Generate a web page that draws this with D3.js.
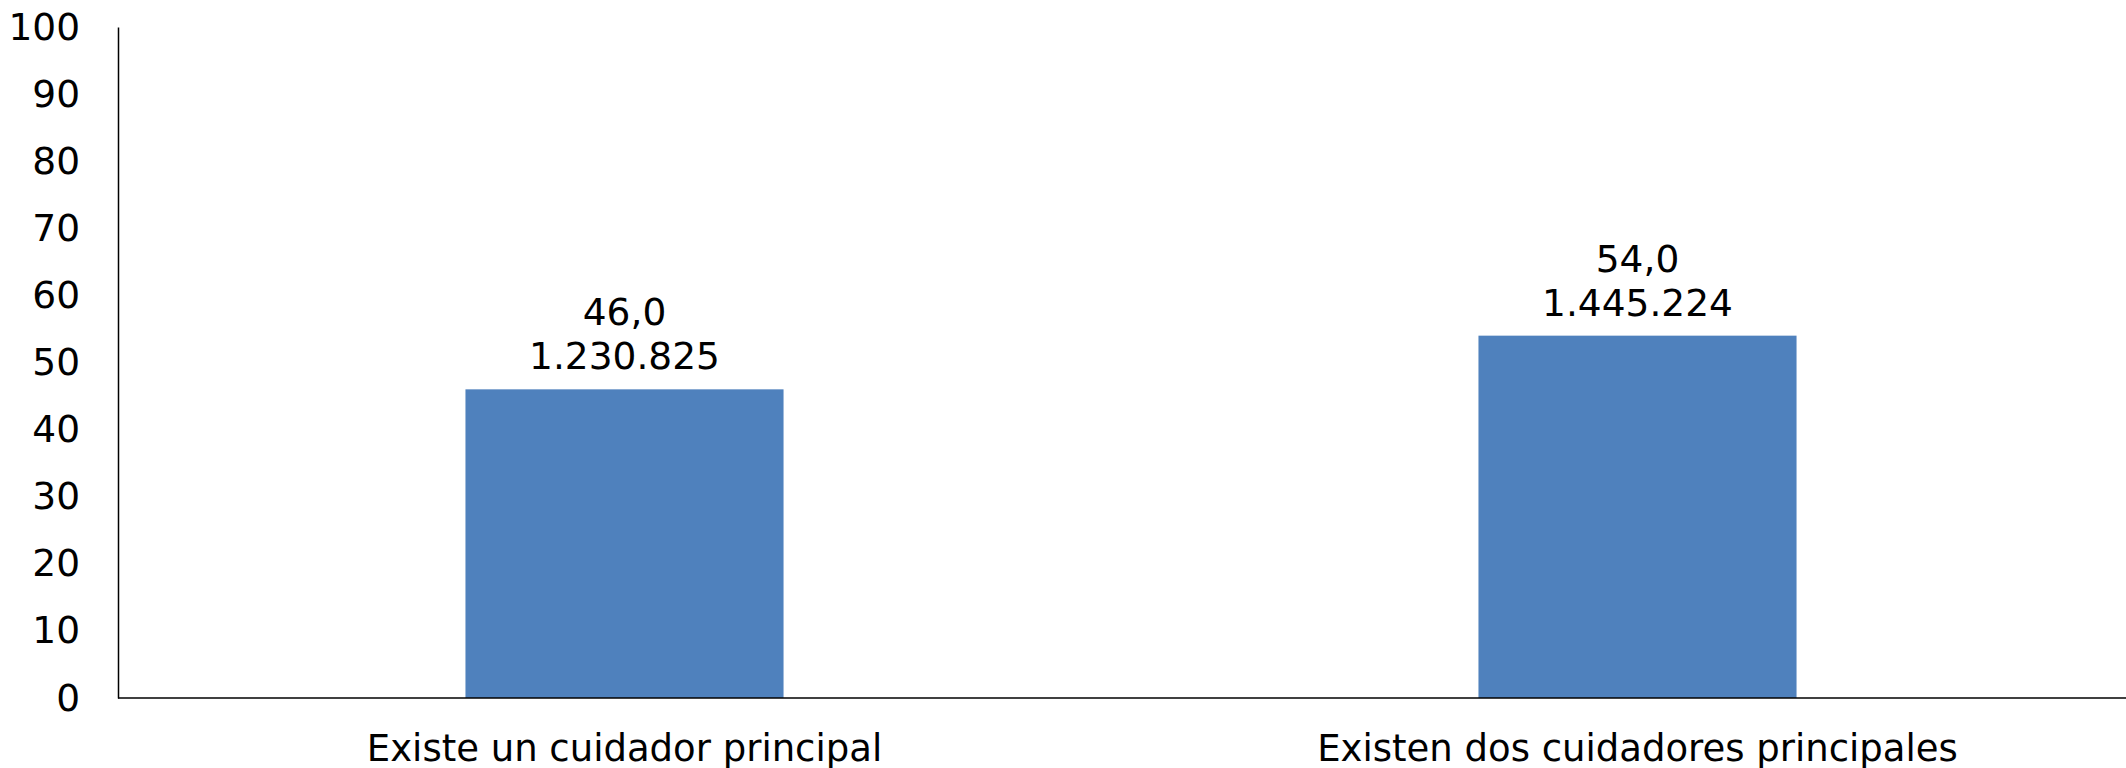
<!DOCTYPE html>
<html><head><meta charset="utf-8">
<script src="https://cdn.jsdelivr.net/npm/d3@7"></script>
<style>body{margin:0;background:#fff}svg{display:block}</style>
</head><body>
<script>
const categories = ["Existe un cuidador principal", "Existen dos cuidadores principales"];
const percents = [46.0, 54.0];
const counts = ["1.230.825", "1.445.224"];
const yTicks = [0,10,20,30,40,50,60,70,80,90,100];

const W = 2126, H = 768;
const m = {left:118, top:27, bottom:70};
const svg = d3.select("body").append("svg").attr("width",W).attr("height",H);
const font = "DejaVu Sans, Verdana, sans-serif";

const x = d3.scaleBand().domain(categories).range([m.left, 2144]).paddingInner(0.686).paddingOuter(0.686/2);
const y = d3.scaleLinear().domain([0,100]).range([H-m.bottom, m.top]);

svg.selectAll("rect.bar").data(categories).join("rect")
  .attr("class","bar")
  .attr("x", d=>x(d)).attr("width", x.bandwidth())
  .attr("y", (d,i)=>y(percents[i])).attr("height",(d,i)=>y(0)-y(percents[i]))
  .attr("fill","#4F81BD");

const yAxis = svg.append("g").attr("transform",`translate(${m.left},0)`)
  .call(d3.axisLeft(y).tickValues(yTicks).tickSize(0).tickPadding(38).tickFormat(d3.format("d")));
yAxis.select(".domain").attr("stroke","#000").attr("stroke-width",1.5);
yAxis.selectAll("text").attr("font-family",font).attr("font-size",37.5).attr("fill","#000");

const xAxis = svg.append("g").attr("transform",`translate(0,${y(0)})`)
  .call(d3.axisBottom(x).tickSize(0).tickPadding(37));
xAxis.select(".domain").attr("stroke","#000").attr("stroke-width",1.5).attr("d",`M${m.left},0H${W}`);
xAxis.selectAll("text").attr("font-family",font).attr("font-size",37).attr("fill","#000");

const lab = svg.selectAll("text.lab").data(categories).join("text")
  .attr("class","lab").attr("text-anchor","middle")
  .attr("font-family",font).attr("font-size",37.5).attr("fill","#000")
  .attr("x", d=>x(d)+x.bandwidth()/2)
  .attr("y", (d,i)=>y(percents[i]) - 20);
lab.append("tspan").attr("x", d=>x(d)+x.bandwidth()/2).attr("dy",-44)
  .text((d,i)=>d3.format(".1f")(percents[i]).replace(".",","));
lab.append("tspan").attr("x", d=>x(d)+x.bandwidth()/2).attr("dy",44)
  .text((d,i)=>counts[i]);
</script>
</body></html>
